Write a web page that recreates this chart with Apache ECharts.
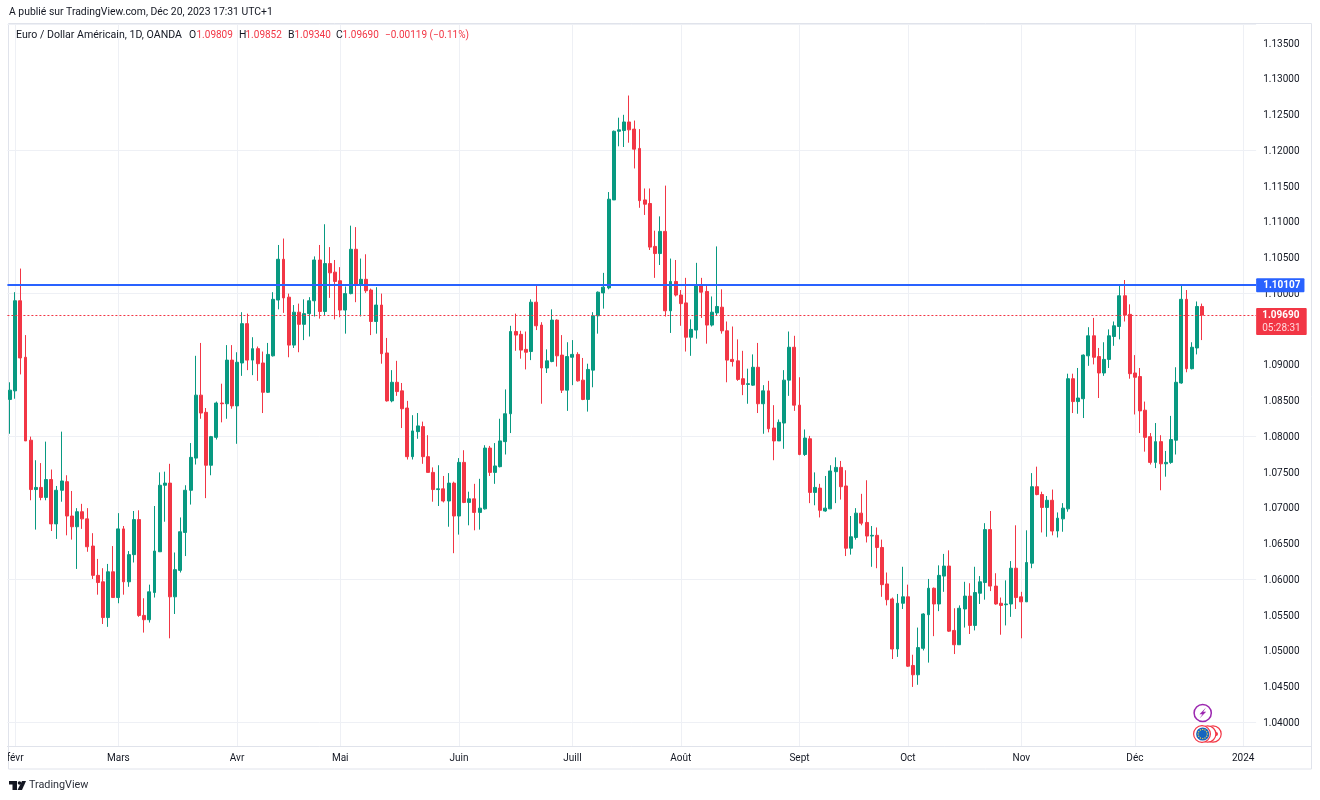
<!DOCTYPE html>
<html>
<head>
<meta charset="utf-8">
<style>html,body{margin:0;padding:0;background:#fff}#c{width:1320px;height:800px}</style>
<script src="https://cdn.jsdelivr.net/npm/echarts@6/dist/echarts.min.js"></script>
</head>
<body>
<div id="c"></div>
<script>
// Prices in pips (price x 10000)
const opens = [
10851,10863,10989,10910,10794,10725,10728,10714,10739,10677,
10724,10736,10688,10673,10694,10684,10646,10605,10596,10546,
10610,10574,10670,10596,10634,10683,10549,10543,10581,10638,
10731,10734,10575,10612,10665,10724,10769,10857,10833,10759,
10798,10846,10845,10906,10842,10902,10957,10906,10922,10902,
10861,10912,10990,11047,10994,10927,10973,10956,10971,10989,
11046,10974,11041,11029,11017,10976,10999,11061,11012,11019,
11004,10960,10983,10916,10849,10875,10863,10839,10771,10806,
10813,10771,10749,10725,10726,10709,10734,10688,10763,10707,
10712,10693,10698,10783,10749,10757,10792,10831,10946,10942,
10921,10918,10987,10955,10895,10904,10962,10913,10864,10910,
10914,10878,10851,10892,10968,11000,11007,11130,11226,11227,
11239,11229,11202,11130,11125,11065,11055,11086,10975,11016,
10997,10986,10938,10948,11010,11002,10955,10972,10980,10947,
10907,10905,10880,10872,10871,10896,10845,10863,10811,10793,
10818,10878,10924,10843,10774,10796,10721,10727,10695,10698,
10750,10756,10730,10643,10658,10692,10679,10660,10661,10644,
10593,10572,10502,10566,10575,10479,10466,10503,10550,10587,
10565,10604,10618,10528,10508,10558,10576,10535,10580,10595,
10669,10590,10566,10564,10565,10615,10575,10568,10622,10729,
10718,10700,10710,10667,10684,10698,10880,10848,10852,10912,
10940,10911,10888,10907,10939,10953,10996,10970,10888,10883,
10836,10799,10763,10792,10761,10763,10794,10874,10991,10894,
10923,10981];
const closes = [
10864,10989,10909,10793,10725,10728,10714,10739,10677,10724,
10737,10688,10673,10694,10684,10645,10605,10595,10546,10610,
10574,10670,10596,10634,10683,10549,10543,10582,10639,10731,
10734,10575,10613,10666,10724,10770,10857,10832,10759,10799,
10846,10845,10906,10842,10903,10957,10906,10922,10901,10861,
10914,10991,11047,10993,10927,10973,10956,10971,10989,11046,
10974,11041,11028,11016,10976,10999,11061,11012,11019,11003,
10960,10983,10915,10849,10875,10862,10838,10771,10807,10814,
10771,10749,10725,10726,10709,10734,10688,10763,10707,10712,
10693,10699,10783,10749,10758,10793,10831,10946,10941,10920,
10917,10987,10954,10895,10905,10962,10912,10864,10911,10914,
10877,10851,10893,10968,11001,11008,11131,11226,11228,11239,
11228,11201,11129,11124,11064,11055,11086,10975,11016,10997,
10985,10938,10949,11010,11001,10955,10973,10981,10947,10906,
10904,10879,10872,10873,10896,10845,10863,10810,10793,10819,
10878,10924,10843,10774,10797,10721,10728,10696,10699,10751,
10756,10729,10643,10659,10692,10678,10660,10661,10644,10592,
10571,10502,10566,10575,10478,10466,10504,10551,10587,10565,
10605,10618,10527,10508,10559,10576,10535,10581,10596,10669,
10590,10565,10563,10565,10615,10574,10568,10623,10729,10718,
10700,10710,10667,10685,10699,10880,10848,10853,10913,10940,
10910,10888,10907,10940,10954,10996,10969,10887,10882,10835,
10798,10763,10792,10761,10763,10795,10875,10991,10894,10924,
10981,10969];
const lows = [
10803,10852,10886,10793,10710,10669,10710,10710,10667,10656,
10708,10661,10655,10614,10670,10638,10600,10578,10537,10533,
10574,10566,10578,10589,10623,10547,10525,10539,10574,10638,
10680,10517,10551,10609,10632,10704,10760,10824,10713,10745,
10795,10819,10824,10838,10789,10884,10892,10885,10877,10832,
10860,10911,10977,10972,10910,10923,10917,10934,10939,10967,
10964,10969,10993,10963,10966,10943,10998,10987,10967,11000,
10941,10943,10901,10848,10847,10856,10811,10767,10767,10796,
10761,10749,10708,10702,10707,10673,10636,10662,10706,10675,
10668,10669,10697,10744,10733,10756,10774,10804,10919,10908,
10893,10906,10948,10845,10888,10903,10897,10860,10835,10871,
10876,10850,10834,10868,10943,10978,11005,11130,11205,11204,
11210,11174,11119,11109,11060,11021,11039,10967,10944,10995,
10954,10918,10912,10936,10965,10929,10953,10968,10943,10875,
10897,10877,10857,10845,10870,10832,10803,10805,10766,10793,
10782,10856,10835,10773,10772,10706,10703,10686,10694,10698,
10706,10711,10632,10634,10655,10675,10651,10617,10615,10575,
10563,10488,10491,10558,10477,10449,10452,10500,10483,10520,
10555,10582,10526,10495,10508,10532,10523,10528,10565,10571,
10583,10564,10522,10535,10547,10558,10517,10568,10615,10717,
10665,10659,10661,10658,10666,10694,10832,10831,10825,10898,
10900,10853,10884,10895,10926,10935,10960,10880,10830,10804,
10778,10760,10755,10724,10743,10761,10774,10873,10889,10893,
10914,10934];
const highs = [
10875,11001,11034,10941,10799,10766,10762,10792,10753,10730,
10806,10745,10723,10699,10705,10699,10664,10628,10615,10621,
10646,10692,10674,10639,10695,10696,10573,10592,10702,10749,
10750,10761,10637,10686,10731,10790,10912,10930,10839,10800,
10848,10873,10927,10927,10917,10973,10971,10938,10925,10918,
10930,11001,11067,11076,10999,10983,10985,10991,10994,11051,
11067,11096,11064,11046,11036,11009,11094,11092,11048,11054,
11006,11008,10999,10937,10892,10905,10874,10849,10829,10832,
10820,10801,10756,10759,10744,10748,10736,10769,10780,10722,
10733,10740,10787,10786,10790,10824,10865,10954,10971,10947,
10946,10991,11012,10959,10921,10977,10963,10941,10931,10934,
10917,10909,10901,10973,11002,11028,11141,11227,11245,11249,
11276,11241,11229,11146,11146,11087,11107,11150,11048,11046,
11004,11021,10963,11042,11021,11011,10995,11065,11005,10960,
10953,10935,10919,10894,10914,10930,10871,10877,10843,10823,
10892,10946,10940,10882,10809,10800,10749,10733,10744,10759,
10770,10765,10752,10688,10699,10719,10738,10674,10672,10655,
10609,10574,10579,10617,10592,10494,10532,10552,10600,10588,
10619,10635,10640,10559,10563,10596,10594,10617,10604,10678,
10695,10608,10574,10598,10625,10675,10582,10668,10748,10757,
10722,10716,10725,10693,10706,10887,10887,10895,10914,10952,
10965,10923,10931,10949,10960,11011,11018,10984,10913,10895,
10848,10804,10818,10801,10779,10828,10896,11012,11004,10931,
10988,10985];
const slotCount = 242;
const monthTickIndex = [1,21,44,64,87,109,130,153,174,196,218,239];
const monthTickLabels = ['févr','Mars','Avr','Mai','Juin','Juill','Août','Sept','Oct','Nov','Déc','2024'];
const priceTicks = [1.04,1.045,1.05,1.055,1.06,1.065,1.07,1.075,1.08,1.085,1.09,1.095,1.1,1.105,1.11,1.115,1.12,1.125,1.13,1.135];
const resistanceLevel = 1.10107;
const lastClose = 1.0969;
const countdown = '05:28:31';

const FONT = 'Roboto, sans-serif';
const UP = '#089981', DOWN = '#F23645', INK = '#131722', GRID = '#EEF0F5', FRAME = '#E0E3EB';
const categories = Array.from({length: slotCount}, (_, i) => String(i));
const candleData = opens.map((o, i) => [o / 10000, closes[i] / 10000, lows[i] / 10000, highs[i] / 10000]);
const isMonth = i => monthTickIndex.indexOf(i) >= 0;

function txt(x, y, s, fill, size, extra) {
  return {type: 'text', silent: true, z: 100, x, y,
    style: Object.assign({text: s, fill, font: (size || 10) + 'px ' + FONT, textVerticalAlign: 'middle'}, extra || {})};
}
const legendBits = [
  [16, 35.5, 'Euro / Dollar Américain, 1D, OANDA', INK, 10.6], [189, 35.5, 'O', INK, 10.4], [196.5, 35.5, '1.09809', DOWN, 10],
  [239, 35.5, 'H', INK, 10.4], [245.5, 35.5, '1.09852', DOWN, 10], [288, 35.5, 'B', INK, 10.4], [294.5, 35.5, '1.09340', DOWN, 10],
  [336, 35.5, 'C', INK, 10.4], [342.5, 35.5, '1.09690', DOWN, 10], [385, 35.5, '−0.00119 (−0.11%)', DOWN, 10]
].map(b => txt(b[0], b[1], b[2], b[3], b[4]));
const circle = (cx, cy, r, style, z) => ({type: 'circle', silent: true, z: z || 100, shape: {cx, cy, r}, style});
const euStars = Array.from({length: 12}, (_, i) => {
  const a = i * Math.PI / 6;
  return circle(1202.7 + 4.6 * Math.cos(a), 734 + 4.6 * Math.sin(a), 0.7, {fill: '#F5D547'}, 104);
});
const graphics = [
  {type: 'rect', silent: true, z: -10, shape: {x: 8.5, y: 23.5, width: 1303, height: 745.5}, style: {fill: 'none', stroke: FRAME, lineWidth: 1}},
  {type: 'line', silent: true, z: -10, shape: {x1: 1256, y1: 746.5, x2: 1312, y2: 746.5}, style: {stroke: FRAME, lineWidth: 1}},
  {type: 'rect', silent: true, z: 90, shape: {x: 0, y: 748, width: 8, height: 20}, style: {fill: '#fff'}},
  txt(9, 12.5, 'A publié sur TradingView.com, Déc 20, 2023 17:31 UTC+1', INK, 10.4)
].concat(legendBits).concat([
  circle(1202.7, 713, 8.6, {fill: '#fff', stroke: '#9C27B0', lineWidth: 1.5}),
  {type: 'polygon', silent: true, z: 101, shape: {points: [[1206, 707.5], [1199.5, 714.2], [1202.5, 714.2], [1199.5, 718.5], [1206.2, 711.8], [1203.2, 711.8]]}, style: {fill: '#9C27B0'}},
  circle(1213, 734, 8.2, {fill: '#fff', stroke: DOWN, lineWidth: 1.2}, 101),
  circle(1216, 734, 2, {fill: DOWN}, 101),
  circle(1207.7, 734, 8.2, {fill: '#fff', stroke: DOWN, lineWidth: 1.2}, 102),
  circle(1202, 734, 8.4, {fill: '#fff', stroke: DOWN, lineWidth: 1.2}, 103),
  circle(1202.7, 734, 6.6, {fill: '#1565C0'}, 103)
]).concat(euStars).concat([
  {type: 'polygon', silent: true, z: 100, shape: {points: [[9, 781], [17, 781], [17, 790], [12.5, 790], [12.5, 784.5], [9, 784.5]]}, style: {fill: INK}},
  circle(19.5, 783, 1.8, {fill: INK}),
  {type: 'polygon', silent: true, z: 100, shape: {points: [[22, 781], [26, 781], [22, 790], [17.5, 790]]}, style: {fill: INK}},
  txt(29, 785.5, 'TradingView', '#2A2E39', 10.8)
]);

const chart = echarts.init(document.getElementById('c'), null, {renderer: 'canvas'});
chart.setOption({
  animation: false,
  backgroundColor: '#fff',
  textStyle: {fontFamily: FONT},
  graphic: graphics,
  grid: {left: 7.42, top: 24, width: 1248.72, height: 722, containLabel: false},
  xAxis: {
    type: 'category',
    data: categories,
    boundaryGap: true,
    axisLine: {show: true, lineStyle: {color: FRAME, width: 1}},
    axisTick: {show: false},
    axisLabel: {
      interval: i => isMonth(i), margin: 7, fontSize: 10, color: INK, fontFamily: FONT,
      formatter: (v, i) => { const k = monthTickIndex.indexOf(Number(v)); return k >= 0 ? monthTickLabels[k] : ''; }
    },
    splitLine: {show: true, alignWithLabel: true, interval: i => isMonth(i), lineStyle: {color: GRID, width: 1}}
  },
  yAxis: {
    type: 'value', position: 'right', scale: true,
    min: 1.03664, max: 1.1376,
    axisLine: {show: false}, axisTick: {show: false},
    axisLabel: {customValues: priceTicks, margin: 7, fontSize: 10, color: INK, fontFamily: FONT, verticalAlign: 'top', lineHeight: 3, formatter: v => v.toFixed(5)},
    splitLine: {show: true, customValues: priceTicks, lineStyle: {color: GRID, width: 1}}
  },
  series: [{
    type: 'candlestick',
    data: candleData,
    barWidth: 3.4,
    clip: true,
    itemStyle: {color: UP, color0: DOWN, borderColor: UP, borderColor0: DOWN, borderWidth: 1},
    markLine: {
      silent: true, symbol: ['none', 'none'], animation: false, precision: 5,
      data: [
        {yAxis: lastClose, lineStyle: {color: DOWN, type: [2, 2], width: 1},
          label: {show: true, position: 'end', distance: 0, offset: [0, 6.5], formatter: ['{a|' + lastClose.toFixed(5) + '}', '{b|' + countdown + '}'].join('\n'),
            backgroundColor: DOWN, padding: [1, 6, 0, 6], borderRadius: 1,
            rich: {a: {color: '#fff', fontSize: 10, fontWeight: 'bold', lineHeight: 13, fontFamily: FONT}, b: {color: '#FFD7DB', fontSize: 10, lineHeight: 13, fontFamily: FONT}}}},
        {yAxis: resistanceLevel, lineStyle: {color: '#2962FF', type: 'solid', width: 2},
          label: {show: true, position: 'end', distance: 0, formatter: resistanceLevel.toFixed(5), color: '#fff', fontSize: 10, fontWeight: 'bold', fontFamily: FONT,
            backgroundColor: '#2962FF', padding: [2, 4, 2, 7], borderRadius: 1}}
      ]
    }
  }]
});
</script>
</body>
</html>
